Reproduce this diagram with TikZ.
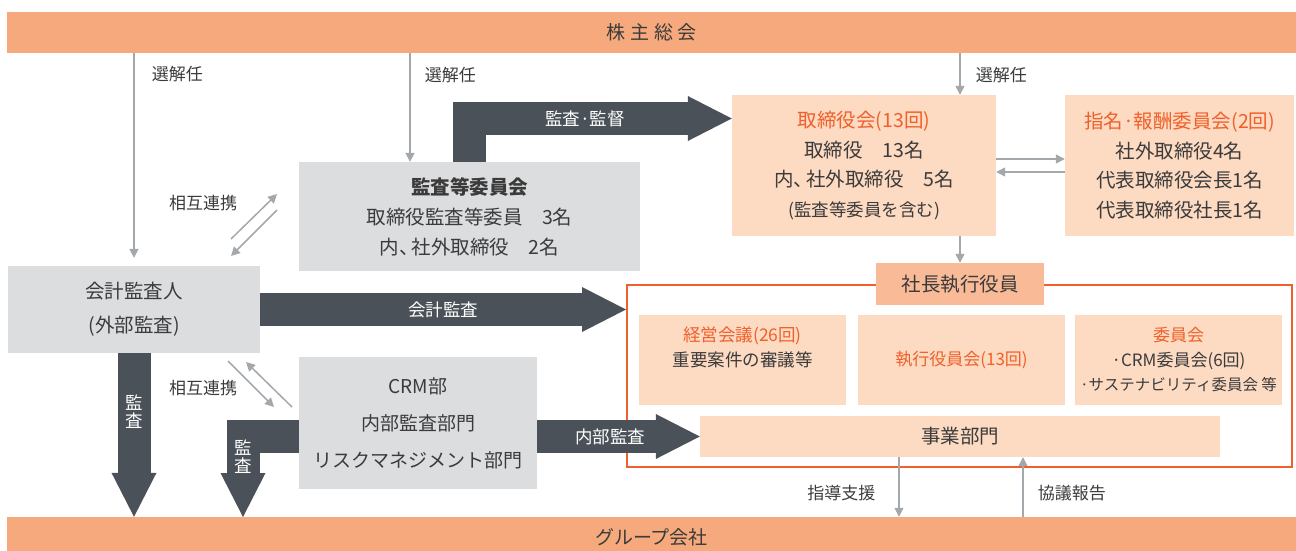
\documentclass[tikz,border=0pt]{standalone}
\usepackage{fontspec}
\setmainfont{Noto Sans CJK JP}
\usetikzlibrary{arrows.meta, positioning}
\definecolor{barorange}{HTML}{F6A97C}
\definecolor{taborange}{HTML}{F9BA97}
\definecolor{peach}{HTML}{FDDAC2}
\definecolor{accent}{HTML}{F0602A}
\definecolor{boxgrey}{HTML}{DCDDDF}
\definecolor{slate}{HTML}{4A5158}
\definecolor{linegrey}{HTML}{A3A8AD}
\definecolor{ink}{HTML}{3B3B3B}
\newcommand{\tou}{、\kern-0.35em}
\tikzstyle{bar} = [fill=barorange, inner sep=0pt, minimum width=1289pt, minimum height=41pt, text=ink, font=\fontsize{19}{20}\selectfont]
\tikzstyle{greybox} = [fill=boxgrey, inner sep=0pt, align=center, text=ink]
\tikzstyle{peachbox} = [fill=peach, inner sep=0pt, align=center, text=ink]
\tikzstyle{linkarrow} = [draw=linegrey, line width=1.5pt, -{Triangle[length=9pt,width=9pt]}]
\tikzstyle{blockarrow} = [draw=slate, line width=33pt, line join=miter, -{Triangle[length=44pt,width=45pt,line width=0pt]}]
\tikzstyle{armlabel} = [text=white, inner sep=0pt, align=center, font=\fontsize{17.5}{17.5}\selectfont]
\tikzstyle{lbl} = [text=ink, inner sep=0pt, font=\fontsize{17}{18}\selectfont]

\begin{document}
\begin{tikzpicture}[x=1pt, y=-1pt]
  \useasboundingbox (0,0) rectangle (1296,550);

  \node[bar] (soukai) at (651.5,32.5) {株\kern5pt 主\kern5pt 総\kern5pt 会};
  \node[bar] (group) at (651.5,537.5) {グループ会社};

  \node[greybox, minimum width=341pt, minimum height=109pt, font=\fontsize{19.5}{30}\selectfont] (kansaiin) at (469.5,216.5)
    {\textbf{監査等委員会}\\取締役監査等委員　3名\\内\tou 社外取締役　2名};
  \node[greybox, minimum width=252pt, minimum height=87pt, font=\fontsize{19.5}{34}\selectfont] (kaikei) at (134,309.5)
    {会計監査人\\(外部監査)};
  \node[greybox, minimum width=238pt, minimum height=132pt, font=\fontsize{19}{37}\selectfont] (crm) at (418,423)
    {CRM部\\内部監査部門\\リスクマネジメント部門};

  \node[peachbox, minimum width=264pt, minimum height=141pt, font=\fontsize{19.5}{29.5}\selectfont] (torishimari) at (864,165.5)
    {{\color{accent}取締役会(13回)}\\取締役　13名\\内\tou 社外取締役　5名\\{\fontsize{17.5}{29.5}\selectfont(監査等委員を含む)}};
  \node[peachbox, minimum width=229pt, minimum height=141pt, font=\fontsize{19.5}{29.5}\selectfont] (shimei) at (1179.5,165.5)
    {{\color{accent}指名·報酬委員会(2回)}\\社外取締役4名\\代表取締役会長1名\\代表取締役社長1名};

  \node[draw=accent, line width=2pt, minimum width=665pt, minimum height=182pt, inner sep=0pt] (frame) at (959.5,376) {};
  \node[fill=taborange, text=ink, minimum width=168pt, minimum height=42pt, inner sep=0pt, font=\fontsize{19.5}{20}\selectfont] (shacho) at (960,284) {社長執行役員};

  \node[peachbox, minimum width=207pt, minimum height=90pt, font=\fontsize{17.5}{25}\selectfont] (keiei) at (742.5,360)
    {{\color{accent}経営会議(26回)}\\重要案件の審議等\\\phantom{重}};
  \node[peachbox, minimum width=207pt, minimum height=90pt, font=\fontsize{17}{25}\selectfont] (shikkou) at (961.5,360)
    {{\color{accent}執行役員会(13回)}};
  \node[peachbox, minimum width=207pt, minimum height=90pt, font=\fontsize{17}{24.5}\selectfont] (iinkai) at (1178.5,360)
    {{\color{accent}委員会}\\·CRM委員会(6回)\\{\fontsize{15.5}{24.5}\selectfont ·サステナビリティ委員会 等}};
  \node[peachbox, minimum width=520pt, minimum height=41pt, font=\fontsize{19.5}{20}\selectfont] (jigyo) at (960,436.5) {事業部門};

  \draw[linkarrow, shorten >=8pt] (kaikei.north |- soukai.south) -- (kaikei.north)
    node[lbl, pos=0.1, anchor=west, xshift=17pt] {選解任};
  \draw[linkarrow] (soukai.south -| 410,0) -- (kansaiin.north -| 410,0)
    node[lbl, pos=0.2, anchor=west, xshift=14pt] {選解任};
  \draw[linkarrow] (soukai.south -| shacho.north) -- (shacho.north |- torishimari.north)
    node[lbl, pos=0.52, anchor=west, xshift=15pt] {選解任};
  \draw[linkarrow] (torishimari.south -| shacho.north) -- (shacho.north);
  \draw[linkarrow] (torishimari.east |- 0,159) -- (shimei.west |- 0,159);
  \draw[linkarrow] (shimei.west |- 0,172) -- (torishimari.east |- 0,172);

  \coordinate (upA) at (231,239);
  \coordinate (upB) at (277,194);
  \coordinate (upC) at (277,210);
  \coordinate (upD) at (231,256);
  \draw[linkarrow] (upA) -- (upB);
  \draw[linkarrow] (upC) -- (upD);
  \node[lbl] (renkei1) at (203,203) {相互連携};
  \coordinate (loA) at (228,361);
  \coordinate (loB) at (274,407);
  \coordinate (loC) at (292,407);
  \coordinate (loD) at (246,362);
  \draw[linkarrow] (loA) -- (loB);
  \draw[linkarrow] (loC) -- (loD);
  \node[lbl] (renkei2) at (203,388) {相互連携};

  \draw[linkarrow] (jigyo.south -| 899,0) -- (group.north -| 899,0)
    node[lbl, pos=0.6, anchor=east, xshift=-23pt] {指導支援};
  \draw[linkarrow] (group.north -| 1023,0) -- (jigyo.south -| 1023,0)
    node[lbl, pos=0.4, anchor=west, xshift=14pt] {協議報告};

  \draw[blockarrow] (kansaiin.north -| 469.5,0) |- (torishimari.west |- 0,118.5)
    node[armlabel, pos=0.72] {監査·監督};
  \draw[blockarrow] (kaikei.east) -- (kaikei.east -| frame.west)
    node[armlabel, midway] {会計監査};
  \draw[blockarrow] (kaikei.south) -- (kaikei.south |- group.north);
  \node[armlabel] (kansa1) at (134.5,411.5) {監\\査};
  \draw[blockarrow] (crm.west |- 0,436.5) -| (243,517);
  \node[armlabel] (kansa2) at (243,456.5) {監\\査};
  \draw[blockarrow] (crm.east |- jigyo.west) -- (jigyo.west)
    node[armlabel, pos=0.45] {内部監査};
\end{tikzpicture}
\end{document}
